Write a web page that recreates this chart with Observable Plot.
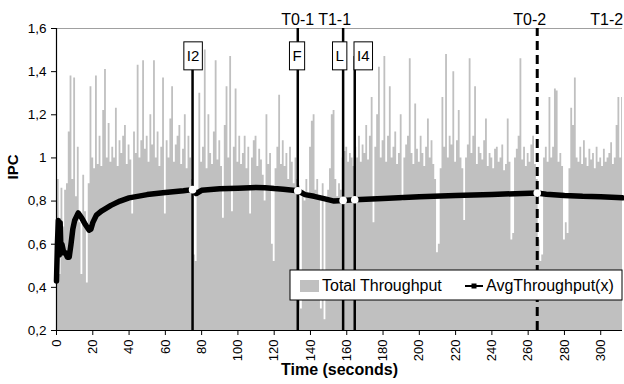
<!DOCTYPE html>
<html><head><meta charset="utf-8">
<script src="https://cdn.jsdelivr.net/npm/d3@7"></script>
<script src="https://cdn.jsdelivr.net/npm/@observablehq/plot@0.6"></script>
<style>body{margin:0;background:#fff;font-family:"Liberation Sans",Arial,sans-serif}</style>
</head><body><div id="chart"></div>
<script>
// Total throughput (IPC), one sample per second, t = 0..312
const totalThroughput = [
0.93,0.9,0.46,0.86,0.68,0.85,0.88,1.12,1.38,0.9,
1.37,0.82,1.05,0.7,0.46,0.92,0.75,0.42,0.88,1.33,
1.0,0.95,1.38,0.97,1.1,0.96,1.22,1.41,1.0,1.16,
0.98,1.05,1.0,1.23,0.96,1.08,1.02,1.1,1.15,0.97,
1.06,0.99,0.74,1.12,1.02,1.43,1.0,1.08,1.45,1.04,
1.1,0.98,1.2,1.06,1.45,1.0,1.12,0.96,1.05,1.37,
0.74,1.08,1.0,1.18,1.33,0.98,1.06,1.1,1.15,0.97,
1.04,1.2,0.95,1.1,1.0,0.9,0.55,0.52,0.85,1.3,
0.98,1.05,1.5,0.95,1.2,1.02,0.97,1.12,1.45,0.99,
1.08,0.96,0.72,1.15,1.33,1.0,1.47,0.75,1.05,1.32,
0.98,1.1,0.97,1.02,1.1,0.95,1.05,0.74,1.0,1.08,
1.1,0.96,1.04,0.99,0.92,0.8,1.2,0.97,1.02,0.6,
0.52,0.95,1.05,1.29,0.97,1.08,0.96,1.02,0.9,1.05,
0.98,0.88,1.0,0.9,0.87,0.3,0.85,0.8,0.9,0.82,
1.05,1.17,1.2,0.85,0.9,0.82,0.3,0.88,0.25,0.8,
0.85,0.95,1.2,1.22,0.9,0.82,0.88,0.85,1.0,1.03,
1.05,0.98,1.02,1.0,0.96,1.05,1.0,1.1,0.98,1.06,
1.02,1.15,0.99,1.1,1.28,0.7,1.05,1.2,1.42,1.0,
1.08,1.47,0.98,1.1,1.33,1.0,1.05,1.12,0.97,1.02,
1.2,0.8,1.0,1.06,1.1,1.46,1.02,0.97,1.25,1.04,
0.98,1.1,1.02,0.96,1.05,1.18,1.0,1.08,0.97,0.9,
0.56,0.6,0.95,1.28,1.05,1.48,1.0,1.1,1.06,1.4,
0.98,1.08,1.22,1.0,0.95,0.71,1.0,1.06,1.46,1.02,
1.1,1.33,0.97,1.05,1.02,0.99,1.08,1.18,0.96,1.02,
1.0,0.95,1.04,1.05,0.98,1.0,1.06,0.94,0.97,1.18,
0.98,0.62,0.65,1.0,1.04,1.1,1.46,0.99,1.05,0.96,
1.02,0.98,1.06,1.1,0.97,0.9,0.62,0.52,0.55,1.0,
1.05,0.98,1.28,1.0,1.05,1.32,1.31,0.98,1.02,0.96,
0.62,0.7,0.65,0.95,1.23,1.15,1.37,1.0,0.98,1.05,
0.97,1.08,1.0,0.96,1.04,0.99,1.02,0.95,1.05,0.98,
1.0,0.96,1.04,0.98,1.0,1.02,1.07,0.97,1.0,1.15,
1.28,1.0,1.28
];
const avgTime  = [0,0.5,1,1.5,2,2.5,3,4,5,6,7,8,9,10,12,14,16,18,19,20,22,25,30,35,40,50,60,70,75,77,80,90,100,110,115,120,125,133,137,142,148,153,158,164.4,180,200,220,240,265,270,280,290,300,312];
const avgValue = [0.43,0.6,0.71,0.55,0.7,0.56,0.6,0.56,0.56,0.54,0.54,0.6,0.67,0.71,0.745,0.72,0.69,0.665,0.67,0.7,0.735,0.755,0.78,0.8,0.815,0.83,0.84,0.848,0.853,0.835,0.85,0.857,0.86,0.863,0.862,0.858,0.855,0.848,0.83,0.822,0.81,0.8,0.803,0.806,0.812,0.82,0.826,0.831,0.837,0.832,0.826,0.822,0.82,0.815];
const eventTime = [75,133,158,164.4];
const eventTop  = [1.47,1.6,1.6,1.47];
const dashedEventTime = [265];
const markerTime  = [75,133,158,164.4,265];
const markerValue = [0.853,0.848,0.803,0.806,0.837];
const boxLabels = ["I2","F","L","I4"];
const boxLabelTime = [75.3,132.6,156.1,169.1];
const boxLabelLevel = 1.47;
const topLabels = ["T0-1","T1-1","T0-2","T1-2"];
const topLabelTime = [133,153.3,260.9,303.3];
const yTicks = [0.2,0.4,0.6,0.8,1.0,1.2,1.4,1.6];
const xTicks = [0,20,40,60,80,100,120,140,160,180,200,220,240,260,280,300];
const legendLabels = ["Total Throughput","AvgThroughput(x)"];

const FONT = '"Liberation Sans", Arial, sans-serif';
const tp = totalThroughput.map((v,i)=>({t:i, v}));
const avg = avgTime.map((t,i)=>({t, v:avgValue[i]}));
const events = eventTime.map((t,i)=>({t, top:eventTop[i]}));
const markers = markerTime.map((t,i)=>({t, v:markerValue[i]}));
const boxes = boxLabels.map((s,i)=>({s, t:boxLabelTime[i]}));
const tops = topLabels.map((s,i)=>({s, t:topLabelTime[i]}));
const fmt = d => String(+d.toFixed(1)).replace(".", ",");

const svg = Plot.plot({
  width: 624, height: 384,
  marginLeft: 56, marginRight: 2, marginTop: 28, marginBottom: 54,
  style: {fontFamily: FONT, fontSize: "13px", background: "white", overflow: "visible"},
  x: {domain: [0, 312], label: null},
  y: {domain: [0.2, 1.6], label: null},
  marks: [
    Plot.areaY(tp, {x: "t", y1: 0.2, y2: "v", fill: "#c0c0c0", curve: "step"}),
    Plot.ruleY([1.6], {stroke: "#a0a0a0", strokeWidth: 1}),
    Plot.ruleX(events, {x: "t", y1: 0.2, y2: "top", stroke: "black", strokeWidth: 2.5}),
    Plot.ruleX(dashedEventTime, {x: d => d, y1: 0.2, y2: 1.6, stroke: "black", strokeWidth: 3, strokeDasharray: "9,5"}),
    Plot.line(avg, {x: "t", y: "v", stroke: "black", strokeWidth: 5.5}),
    Plot.dot(markers, {x: "t", y: "v", r: 3.8, fill: "white", stroke: null}),
    Plot.ruleX([0], {stroke: "black", strokeWidth: 1.2}),
    Plot.ruleY([0.2], {stroke: "black", strokeWidth: 1.2}),
    Plot.axisY({ticks: yTicks, tickSize: 5, tickPadding: 5, tickFormat: fmt, label: null, fontSize: 13.5}),
    Plot.axisX({ticks: xTicks, tickSize: 5, tickPadding: 4, tickRotate: -90, label: null, fontSize: 13}),
    Plot.text(boxes, {x: "t", y: () => boxLabelLevel, text: "s", fontSize: 15, fill: "black"}),
    Plot.text(tops, {x: "t", text: "s", frameAnchor: "top", lineAnchor: "bottom", dy: -4, fontSize: 16, fill: "black"}),
    Plot.text(["Time (seconds)"], {frameAnchor: "bottom", dy: 44, fontWeight: "bold", fontSize: 16, fill: "black"}),
    Plot.text(["IPC"], {frameAnchor: "left", dx: -43, rotate: -90, fontWeight: "bold", fontSize: 15, fill: "black"})
  ]
});
document.getElementById("chart").appendChild(svg);

// boxes behind event labels
svg.querySelectorAll("text").forEach(el => {
  if (boxLabels.includes(el.textContent) && el.parentNode) {
    const b = el.getBBox();
    const cy = b.y + b.height / 2;
    const r = document.createElementNS("http://www.w3.org/2000/svg", "rect");
    r.setAttribute("x", b.x - 3);
    r.setAttribute("y", cy - 14);
    r.setAttribute("width", b.width + 6);
    r.setAttribute("height", 28);
    r.setAttribute("fill", "white");
    r.setAttribute("stroke", "black");
    r.setAttribute("stroke-width", 1);
    if (el.getAttribute("transform")) r.setAttribute("transform", el.getAttribute("transform"));
    el.parentNode.insertBefore(r, el);
  }
});

// legend
const s = d3.select(svg);
const lg = s.append("g").attr("font-size", 16).attr("font-family", FONT).attr("fill", "black").attr("text-anchor", "start");
lg.append("rect").attr("x", 290).attr("y", 270).attr("width", 332).attr("height", 30).attr("fill", "white").attr("stroke", "black");
lg.append("rect").attr("x", 300).attr("y", 280).attr("width", 19).attr("height", 12).attr("fill", "#c0c0c0");
lg.append("text").attr("x", 322).attr("y", 291).attr("text-anchor", "start").text(legendLabels[0]);
lg.append("line").attr("x1", 465).attr("x2", 483).attr("y1", 286).attr("y2", 286).attr("stroke", "black").attr("stroke-width", 2);
lg.append("rect").attr("x", 471.5).attr("y", 283.5).attr("width", 5).attr("height", 5).attr("fill", "black");
lg.append("text").attr("x", 486).attr("y", 291).attr("text-anchor", "start").text(legendLabels[1]);
</script></body></html>
